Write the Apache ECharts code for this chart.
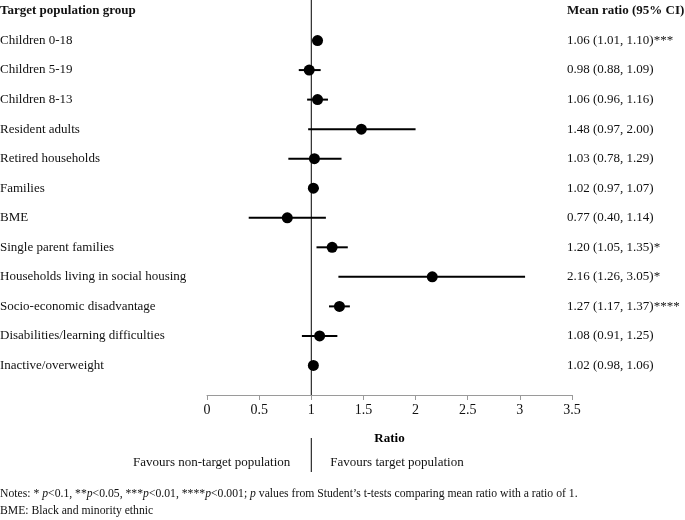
<!DOCTYPE html>
<html><head><meta charset="utf-8">
<script src="https://cdn.jsdelivr.net/npm/echarts@6/dist/echarts.min.js"></script>
<style>html,body{margin:0;padding:0;background:#fff}#c{width:685px;height:520px}</style>
</head><body><div id="c"></div>
<script>
const groups = ['Children 0-18','Children 5-19','Children 8-13','Resident adults','Retired households','Families','BME','Single parent families','Households living in social housing','Socio-economic disadvantage','Disabilities/learning difficulties','Inactive/overweight'];
const means = [1.06,0.98,1.06,1.48,1.03,1.02,0.77,1.20,2.16,1.27,1.08,1.02];
const lows  = [1.01,0.88,0.96,0.97,0.78,0.97,0.40,1.05,1.26,1.17,0.91,0.98];
const highs = [1.10,1.09,1.16,2.00,1.29,1.07,1.14,1.35,3.05,1.37,1.25,1.06];
const stars = ['***','','','','','','','*','*','****','',''];
const xTicks = [0,0.5,1,1.5,2,2.5,3,3.5];
const leftHeader = 'Target population group';
const rightHeader = 'Mean ratio (95% CI)';
const refValue = 1;

const FONT = '"Liberation Serif", "Times New Roman", serif';
const cats = [leftHeader, ...groups, ''];
const ciText = [rightHeader, ...groups.map((g,i)=>means[i].toFixed(2)+' ('+lows[i].toFixed(2)+', '+highs[i].toFixed(2)+')'+stars[i]), ''];

const chart = echarts.init(document.getElementById('c'));
const option = {
  animation:false,
  textStyle:{fontFamily:FONT},
  grid:{left:207,right:113,top:11,bottom:125,outerBoundsMode:'none',containLabel:false},
  xAxis:{type:'value',min:xTicks[0],max:xTicks[xTicks.length-1],interval:0.5,
    name:'Ratio',nameLocation:'middle',nameGap:37,
    nameTextStyle:{fontFamily:FONT,fontWeight:'bold',fontSize:13,color:'#000'},
    axisLine:{show:true,onZero:false,lineStyle:{color:'#9a9a9a',width:1}},
    axisTick:{show:true,length:5,lineStyle:{color:'#9a9a9a'}},
    axisLabel:{fontFamily:FONT,fontSize:14,color:'#111',margin:8},
    splitLine:{show:false}},
  yAxis:[
    {type:'category',data:cats,inverse:true,boundaryGap:false,
     axisLine:{show:false},axisTick:{show:false},splitLine:{show:false},
     axisLabel:{align:'left',margin:207,fontFamily:FONT,fontSize:13,color:'#111',interval:0,
       formatter:(v,i)=> i===0 ? '{b|'+v+'}' : v,
       rich:{b:{fontFamily:FONT,fontWeight:'bold',fontSize:13,color:'#111'}}}},
    {type:'category',data:ciText,inverse:true,boundaryGap:false,position:'right',
     axisLine:{show:false},axisTick:{show:false},splitLine:{show:false},
     axisLabel:{align:'left',margin:-5,fontFamily:FONT,fontSize:13,color:'#111',interval:0,
       formatter:(v,i)=> i===0 ? '{b|'+v+'}' : v,
       rich:{b:{fontFamily:FONT,fontWeight:'bold',fontSize:13,color:'#111'}}}}
  ],
  series:[
    {type:'custom',yAxisIndex:0,
     data:groups.map((g,i)=>[lows[i],highs[i],g]),
     encode:{x:[0,1],y:2},
     renderItem:(params,api)=>{
       const a = api.coord([api.value(0),api.value(2)]);
       const b = api.coord([api.value(1),api.value(2)]);
       return {type:'line',shape:{x1:a[0],y1:a[1],x2:b[0],y2:b[1]},style:{stroke:'#000',lineWidth:2}};
     }},
    {type:'scatter',yAxisIndex:0,symbol:'circle',symbolSize:11,
     itemStyle:{color:'#000',opacity:1},
     data:groups.map((g,i)=>[means[i],g]), z:5}
  ]
};
chart.setOption(option);

const xr = chart.convertToPixel({xAxisIndex:0}, refValue);
const yb = chart.convertToPixel({yAxisIndex:0}, '');
chart.setOption({graphic:[
  {type:'line',shape:{x1:xr,y1:0,x2:xr,y2:yb},style:{stroke:'#000',lineWidth:1},z:10},
  {type:'line',shape:{x1:xr,y1:yb+43,x2:xr,y2:yb+77},style:{stroke:'#000',lineWidth:1}},
  {type:'text',x:xr-21,y:yb+68,style:{text:'Favours non-target population',font:'13px '+FONT,fill:'#111',textAlign:'right',textVerticalAlign:'middle'}},
  {type:'text',x:xr+19,y:yb+68,style:{text:'Favours target population',font:'13px '+FONT,fill:'#111',textAlign:'left',textVerticalAlign:'middle'}},
  {type:'text',x:0,y:494,style:{
     text:'Notes: * {i|p}<0.1, **{i|p}<0.05, ***{i|p}<0.01, ****{i|p}<0.001; {i|p} values from Student’s t-tests comparing mean ratio with a ratio of 1.',
     font:'11.7px '+FONT,fill:'#111',textVerticalAlign:'middle',
     rich:{i:{fontStyle:'italic',fontFamily:FONT,fontSize:11.7,fill:'#111'}}}},
  {type:'text',x:0,y:511,style:{text:'BME: Black and minority ethnic',font:'11.7px '+FONT,fill:'#111',textVerticalAlign:'middle'}}
]});
</script></body></html>
